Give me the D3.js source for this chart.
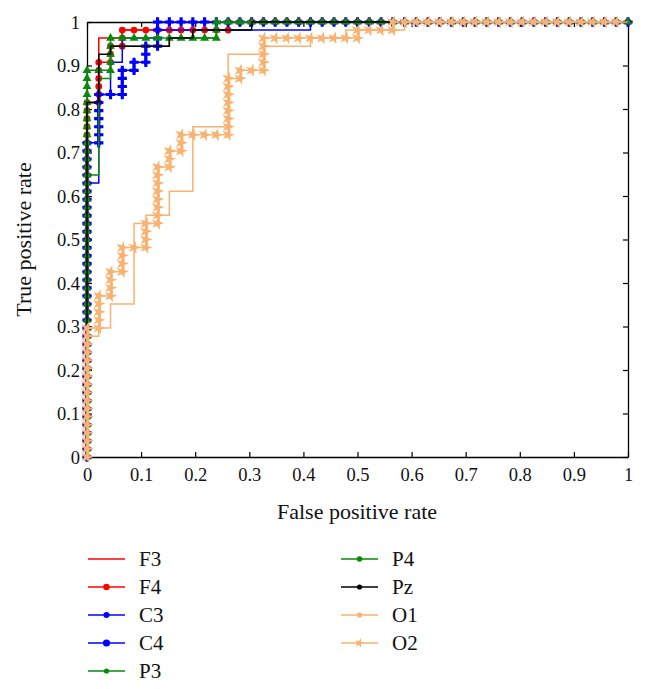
<!DOCTYPE html>
<html>
<head>
<meta charset="utf-8">
<script src="https://cdn.jsdelivr.net/npm/d3@7"></script>
<style>
  html, body { margin: 0; padding: 0; background: #fff; }
  svg { display: block; }
  text { font-family: "Liberation Serif", "DejaVu Serif", serif; fill: #111; }
</style>
</head>
<body>
<svg id="chart" width="647" height="689"></svg>
<script>
// ---------------- DATA ----------------
// ROC curves given as run lengths of the sorted label sequence:
// alternating counts of positive steps (up) and negative steps (right), starting with "up".
const N_POS = 54;
const N_NEG = 46;
const seriesNames = ["F3", "F4", "C3", "C4", "P3", "P4", "Pz", "O1", "O2"];
const F3_runs = [44, 1, 8, 2, 1, 9, 1, 34];
const F4_runs = [44, 1, 5, 1, 2, 1, 2, 9, 1, 34];
const C3_runs = [34, 1, 11, 1, 4, 1, 3, 3, 1, 13, 1, 27];
const C4_runs = [39, 1, 6, 2, 3, 1, 1, 1, 2, 1, 3, 40];
const P3_runs = [35, 1, 12, 1, 4, 5, 1, 4, 2, 35];
const P4_runs = [48, 2, 4, 9, 2, 35];
const Pz_runs = [44, 1, 6, 1, 1, 5, 1, 2, 1, 5, 1, 32];
const O1_runs = [15, 1, 1, 1, 3, 2, 10, 1, 1, 2, 3, 2, 8, 3, 9, 3, 1, 4, 1, 3, 1, 5, 1, 19];
const O2_runs = [16, 1, 4, 1, 3, 1, 3, 2, 3, 1, 7, 1, 2, 1, 2, 4, 7, 1, 1, 2, 4, 8, 1, 3, 1, 19];
const xTicks = [0, 0.1, 0.2, 0.3, 0.4, 0.5, 0.6, 0.7, 0.8, 0.9, 1];
const yTicks = [0, 0.1, 0.2, 0.3, 0.4, 0.5, 0.6, 0.7, 0.8, 0.9, 1];
const xLabel = "False positive rate";
const yLabel = "True positive rate";

// ---------------- STYLE ----------------
const styles = {
  F3: { color: "#ff0000", marker: null },
  F4: { color: "#ff0000", marker: "circle" },
  C3: { color: "#0000ff", marker: null },
  C4: { color: "#0000ff", marker: "cross" },
  P3: { color: "#0a8a0a", marker: null },
  P4: { color: "#0a8a0a", marker: "triangle" },
  Pz: { color: "#000000", marker: null },
  O1: { color: "#f9b26f", marker: null },
  O2: { color: "#f9b26f", marker: "star" }
};
const legendMarker = {
  F3: null, F4: ["circle", 3.2], C3: ["circle", 3], C4: ["circle", 3.6], P3: ["circle", 2.6],
  P4: ["circle", 2.8], Pz: ["circle", 2.6], O1: ["circle", 2.6], O2: ["star", 2.8]
};
const runsBySeries = { F3: F3_runs, F4: F4_runs, C3: C3_runs, C4: C4_runs, P3: P3_runs,
                       P4: P4_runs, Pz: Pz_runs, O1: O1_runs, O2: O2_runs };

function rocPoints(runs) {
  const pts = [[0, 0]];
  let tp = 0, fp = 0;
  runs.forEach((n, i) => {
    for (let k = 0; k < n; k++) {
      if (i % 2 === 0) tp++; else fp++;
      pts.push([fp / N_NEG, tp / N_POS]);
    }
  });
  return pts;
}

// ---------------- CHART ----------------
const svg = d3.select("#chart");
const L = 87, R = 628, T = 22, B = 457;
const x = d3.scaleLinear().domain([0, 1]).range([L, R]);
const y = d3.scaleLinear().domain([0, 1]).range([B, T]);

// axes (ticks inward, box)
const axisFont = "18.5px";
const gx = svg.append("g").attr("transform", `translate(0,${B})`)
  .call(d3.axisBottom(x).tickValues(xTicks).tickFormat(d3.format("")).tickSizeInner(-5).tickSizeOuter(0).tickPadding(11));
const gy = svg.append("g").attr("transform", `translate(${L},0)`)
  .call(d3.axisLeft(y).tickValues(yTicks).tickFormat(d3.format("")).tickSizeInner(-5).tickSizeOuter(0).tickPadding(7));
const gt = svg.append("g").attr("transform", `translate(0,${T})`)
  .call(d3.axisTop(x).tickValues(xTicks).tickFormat("").tickSizeInner(-5).tickSizeOuter(0));
const gr = svg.append("g").attr("transform", `translate(${R},0)`)
  .call(d3.axisRight(y).tickValues(yTicks).tickFormat("").tickSizeInner(-5).tickSizeOuter(0));
[gx, gy, gt, gr].forEach(g => {
  g.selectAll("path.domain").attr("stroke", "#000").attr("stroke-width", 1.3);
  g.selectAll(".tick line").attr("stroke", "#000").attr("stroke-width", 1.2);
  g.selectAll(".tick text").style("font-size", axisFont).style("font-family", "Liberation Serif, serif").attr("fill", "#111");
});
gy.selectAll(".tick text").attr("dy", "0.35em");

// axis titles
svg.append("text").attr("x", 357).attr("y", 519).attr("text-anchor", "middle")
  .style("font-size", "22px").text(xLabel);
svg.append("text").attr("transform", `translate(31,${(T + B) / 2}) rotate(-90)`).attr("text-anchor", "middle")
  .style("font-size", "22px").text(yLabel);

// marker drawing
function drawMarker(g, type, cx, cy, color, scale) {
  const s = scale || 1;
  if (type === "circle") {
    g.append("circle").attr("cx", cx).attr("cy", cy).attr("r", 3.4 * s).attr("fill", color);
  } else if (type === "cross") {
    g.append("path").attr("transform", `translate(${cx},${cy})`)
      .attr("d", d3.symbol().type(d3.symbolCross).size(48 * s * s)()).attr("fill", color);
    g.append("path").attr("transform", `translate(${cx},${cy})`)
      .attr("d", d3.symbol().type(d3.symbolDiamond).size(24 * s * s)()).attr("fill", color);
  } else if (type === "triangle") {
    g.append("path").attr("transform", `translate(${cx},${cy})`)
      .attr("d", d3.symbol().type(d3.symbolTriangle).size(34 * s * s)()).attr("fill", color);
  } else if (type === "star") {
    g.append("path").attr("transform", `translate(${cx},${cy}) rotate(15)`)
      .attr("d", d3.symbol().type(d3.symbolStar).size(52 * s * s)()).attr("fill", color);
  }
}

const line = d3.line().x(d => x(d[0])).y(d => y(d[1]));
const curves = svg.append("g");
seriesNames.forEach(name => {
  const st = styles[name];
  const pts = rocPoints(runsBySeries[name]);
  const g = curves.append("g");
  g.append("path").datum(pts).attr("d", line).attr("fill", "none")
    .attr("stroke", st.color).attr("stroke-width", 1.5).attr("stroke-linejoin", "miter");
  if (st.marker) {
    pts.forEach(p => drawMarker(g, st.marker, x(p[0]), y(p[1]), st.color, 1));
  }
});

// legend
const legendCols = [
  { names: ["F3", "F4", "C3", "C4", "P3"], x1: 88, x2: 125, tx: 139 },
  { names: ["P4", "Pz", "O1", "O2"], x1: 341, x2: 378, tx: 392 }
];
const legendY0 = 559, legendDY = 28;
const lg = svg.append("g");
legendCols.forEach(col => {
  col.names.forEach((name, i) => {
    const yy = legendY0 + i * legendDY;
    const st = styles[name];
    lg.append("line").attr("x1", col.x1).attr("x2", col.x2).attr("y1", yy).attr("y2", yy)
      .attr("stroke", st.color).attr("stroke-width", 1.5);
    const lm = legendMarker[name];
    if (lm) {
      const cx = (col.x1 + col.x2) / 2;
      if (lm[0] === "circle") lg.append("circle").attr("cx", cx).attr("cy", yy).attr("r", lm[1]).attr("fill", st.color);
      else drawMarker(lg, lm[0], cx, yy, st.color, 0.75);
    }
    lg.append("text").attr("x", col.tx).attr("y", yy).attr("dy", "0.35em")
      .style("font-size", "21px").text(name);
  });
});
</script>
</body>
</html>
